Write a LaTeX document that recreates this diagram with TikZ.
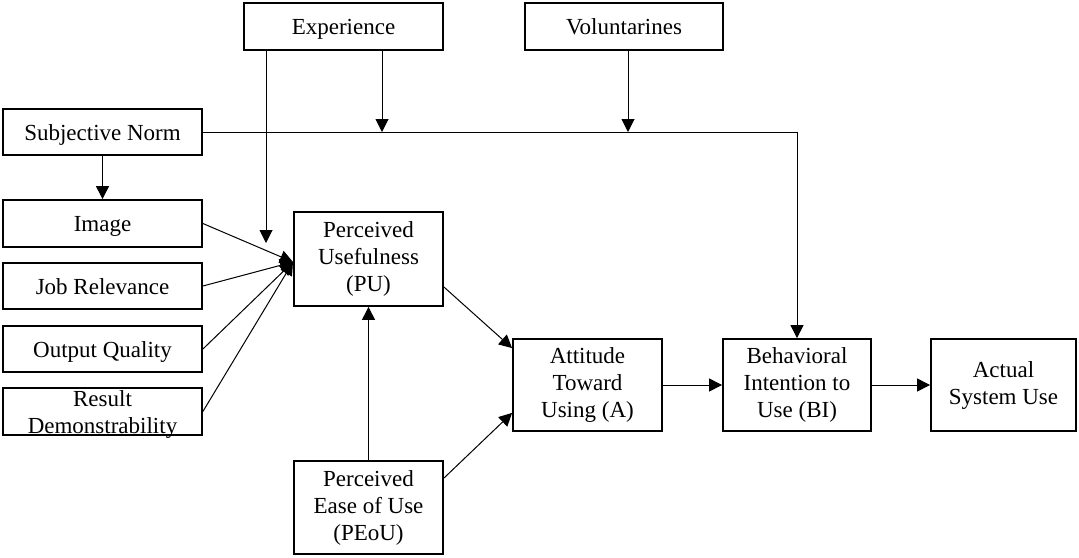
\documentclass[tikz,border=0pt]{standalone}
\usepackage{fontspec}
\setmainfont{Liberation Serif}
\usetikzlibrary{arrows.meta,calc}
\begin{document}
\begin{tikzpicture}[x=1pt,y=-1pt,
  box/.style={draw, line width=1.8pt, inner sep=0pt, align=center,
    font=\fontsize{23pt}{27pt}\selectfont},
  oneline/.style={text height=16.5pt, text depth=0pt},
  caption/.style={inner sep=0pt, align=center, font=\fontsize{23pt}{27pt}\selectfont},
  link/.style={line width=1pt, -{Triangle[width=13pt,length=13pt]}}]
\useasboundingbox (0,0) rectangle (1079,557);

% external variables (left column)
\node[box, oneline, minimum width=199pt, minimum height=46pt] (sn)  at (102.5,132)   {Subjective Norm};
\node[box, oneline, minimum width=199pt, minimum height=47pt] (img) at (102.5,223.5) {Image};
\node[box, oneline, minimum width=199pt, minimum height=46pt] (job) at (102.5,286)   {Job Relevance};
\node[box, oneline, minimum width=199pt, minimum height=46pt] (out) at (102.5,349)   {Output Quality};
\node[box, minimum width=199pt, minimum height=47pt] (res) at (102.5,411.5) {};
\node[caption] (resl) at (102.5,414) {Result\\Demonstrability};

% moderators (top row)
\node[box, oneline, minimum width=199pt, minimum height=47pt] (exp) at (343.5,26.5) {Experience};
\node[box, oneline, minimum width=198pt, minimum height=47pt] (vol) at (624,26.5)   {Voluntarines};

% core model
\node[box, minimum width=149pt, minimum height=94pt] (pu)   at (368.5,259)   {Perceived\\Usefulness\\(PU)};
\node[box, minimum width=149pt, minimum height=93pt] (peou) at (368.5,507.5) {Perceived\\Ease of Use\\(PEoU)};
\node[box, minimum width=149pt, minimum height=92pt] (att)  at (587.5,385)   {Attitude\\Toward\\Using (A)};
\node[box, minimum width=148pt, minimum height=92pt] (bi)   at (797,385)     {Behavioral\\Intention to\\Use (BI)};
\node[box, minimum width=145pt, minimum height=92pt] (act)  at (1003.5,385)  {Actual\\System Use};

% connector end points
\coordinate (conv)    at (293,262);
\coordinate (expend)  at (266,243);
\coordinate (expmod)  at (382,132);
\coordinate (volmod)  at (628,132);

% determinants of perceived usefulness
\draw[link] (img.east) -- (conv);
\draw[link] (job.east) -- (conv);
\draw[link] (out.east) -- (conv);
\draw[link] (res.east) -- (conv);
\draw[link] (sn.south) -- (img.north);

% moderating effects
\draw[link] (exp.south -| expend) -- (expend);
\draw[link] (exp.south -| expmod) -- (expmod);
\draw[link] (vol.south -| volmod) -- (volmod);
\draw[link] (sn.east) -| (bi.north);

% main paths
\draw[link] (peou.north) -- (pu.south);
\draw[link] ([yshift=-28pt]pu.east) -- ([yshift=-10pt]att.north west);
\draw[link] ([yshift=-18pt]peou.north east) -- ([yshift=19pt]att.south west);
\draw[link] (att.east) -- (bi.west);
\draw[link] (bi.east) -- (act.west);
\end{tikzpicture}
\end{document}
